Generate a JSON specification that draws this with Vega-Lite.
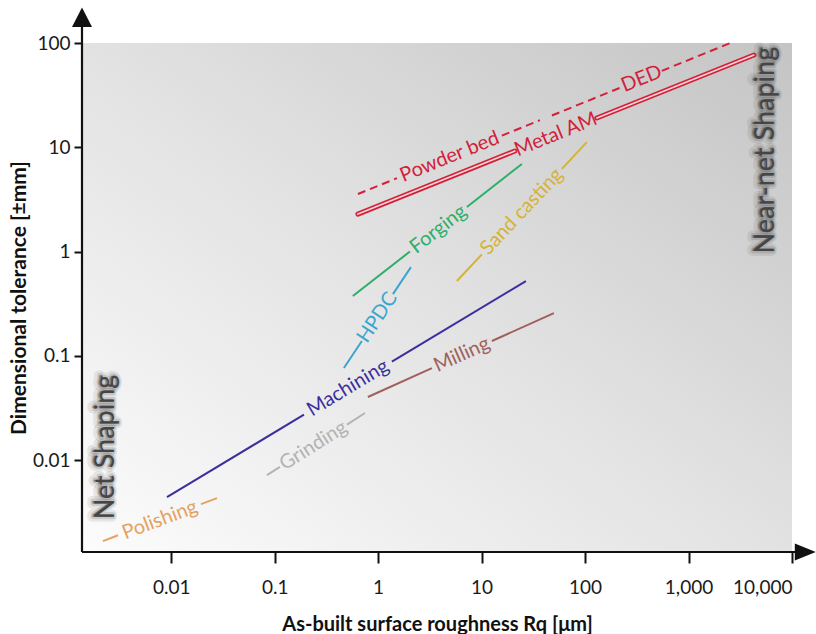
{
  "$schema": "https://vega.github.io/schema/vega-lite/v6.json",
  "width": 710,
  "height": 509,
  "autosize": {"type": "none"},
  "padding": {"left": 82, "top": 43, "right": 24, "bottom": 82},
  "background": "white",
  "config": {
    "view": {"stroke": null},
    "font": "Lato",
    "axis": {
      "domain": false,
      "grid": false,
      "tickColor": "#111111",
      "tickWidth": 2,
      "labelFont": "Lato",
      "labelFontSize": 19,
      "labelColor": "#1a1a1a",
      "titleFont": "Lato",
      "titleFontSize": 20,
      "titleFontWeight": "bold",
      "titleColor": "#111111"
    }
  },
  "datasets": {
    "frame": [
      {"part": "y axis", "x": 0.001374, "y": 0.00132},
      {"part": "y axis", "x": 0.001374, "y": 160},
      {"part": "x axis", "x": 0.001374, "y": 0.00132},
      {"part": "x axis", "x": 12000, "y": 0.00132}
    ],
    "arrows": [
      {"part": "y axis", "x": 0.001374, "y": 175.6},
      {"part": "x axis", "x": 13300, "y": 0.00132}
    ],
    "solid": [
      {"process": "Polishing", "seg": "Polishing a", "x": 0.00219, "y": 0.00168},
      {"process": "Polishing", "seg": "Polishing a", "x": 0.00306, "y": 0.00191},
      {"process": "Polishing", "seg": "Polishing b", "x": 0.0194, "y": 0.0038},
      {"process": "Polishing", "seg": "Polishing b", "x": 0.0277, "y": 0.00434},
      {"process": "Machining", "seg": "Machining a", "x": 0.0091, "y": 0.00444},
      {"process": "Machining", "seg": "Machining a", "x": 0.192, "y": 0.02735},
      {"process": "Machining", "seg": "Machining b", "x": 1.359, "y": 0.0883},
      {"process": "Machining", "seg": "Machining b", "x": 26.8, "y": 0.5224},
      {"process": "Grinding", "seg": "Grinding a", "x": 0.0843, "y": 0.00721},
      {"process": "Grinding", "seg": "Grinding a", "x": 0.1125, "y": 0.00865},
      {"process": "Grinding", "seg": "Grinding b", "x": 0.5, "y": 0.022},
      {"process": "Grinding", "seg": "Grinding b", "x": 0.746, "y": 0.0284},
      {"process": "HPDC", "seg": "HPDC a", "x": 0.467, "y": 0.0766},
      {"process": "HPDC", "seg": "HPDC a", "x": 0.697, "y": 0.1393},
      {"process": "HPDC", "seg": "HPDC b", "x": 1.39, "y": 0.391},
      {"process": "HPDC", "seg": "HPDC b", "x": 2.075, "y": 0.711},
      {"process": "Forging", "seg": "Forging a", "x": 0.57, "y": 0.375},
      {"process": "Forging", "seg": "Forging a", "x": 2.029, "y": 1.002},
      {"process": "Forging", "seg": "Forging b", "x": 7.21, "y": 2.68},
      {"process": "Forging", "seg": "Forging b", "x": 24.5, "y": 6.92},
      {"process": "Sand casting", "seg": "Sand casting a", "x": 5.77, "y": 0.5224},
      {"process": "Sand casting", "seg": "Sand casting a", "x": 10.07, "y": 0.942},
      {"process": "Sand casting", "seg": "Sand casting b", "x": 59.7, "y": 6.22},
      {"process": "Sand casting", "seg": "Sand casting b", "x": 104, "y": 11.2},
      {"process": "Milling", "seg": "Milling a", "x": 0.796, "y": 0.0404},
      {"process": "Milling", "seg": "Milling a", "x": 3.31, "y": 0.0764},
      {"process": "Milling", "seg": "Milling b", "x": 12.58, "y": 0.139},
      {"process": "Milling", "seg": "Milling b", "x": 50, "y": 0.2576}
    ],
    "metalAM": [
      {"seg": "Metal AM a", "x": 0.638, "y": 2.29},
      {"seg": "Metal AM a", "x": 21.0, "y": 9.22},
      {"seg": "Metal AM b", "x": 130, "y": 19.1},
      {"seg": "Metal AM b", "x": 4285, "y": 76.7}
    ],
    "powderDED": [
      {"seg": "a", "x": 0.638, "y": 3.565},
      {"seg": "a", "x": 1.519, "y": 5.06},
      {"seg": "b", "x": 15.7, "y": 12.94},
      {"seg": "b", "x": 36.6, "y": 18.2},
      {"seg": "c", "x": 47.8, "y": 20.2},
      {"seg": "c", "x": 227, "y": 37.8},
      {"seg": "d", "x": 552, "y": 54.1},
      {"seg": "d", "x": 2679, "y": 102.2}
    ],
    "labels": [
      {"label": "Polishing", "x": 0.00779, "y": 0.00267},
      {"label": "Machining", "x": 0.511, "y": 0.0492},
      {"label": "Grinding", "x": 0.237, "y": 0.0138},
      {"label": "HPDC", "x": 0.984, "y": 0.2335},
      {"label": "Forging", "x": 3.83, "y": 1.637},
      {"label": "Sand casting", "x": 24.5, "y": 2.42},
      {"label": "Milling", "x": 6.45, "y": 0.1028},
      {"label": "Metal AM", "x": 52.2, "y": 13.27},
      {"label": "Powder bed", "x": 4.91, "y": 8.09},
      {"label": "DED", "x": 352, "y": 45.3},
      {"label": "Net Shaping", "x": 0.00236, "y": 0.0134},
      {"label": "Near-net Shaping", "x": 5585, "y": 9.4}
    ]
  },
  "encoding": {
    "x": {
      "field": "x",
      "type": "quantitative",
      "scale": {"type": "log", "domain": [0.001374, 10000], "nice": false},
      "axis": {
        "title": "As-built surface roughness Rq [μm]",
        "values": [0.01, 0.1, 1, 10, 100, 1000, 10000],
        "format": ",",
        "tickSize": 11,
        "labelPadding": 15,
        "titlePadding": 17
      }
    },
    "y": {
      "field": "y",
      "type": "quantitative",
      "scale": {"type": "log", "domain": [0.00132, 100], "nice": false},
      "axis": {
        "title": "Dimensional tolerance [±mm]",
        "values": [0.01, 0.1, 1, 10, 100],
        "format": ",",
        "tickSize": 8,
        "labelPadding": 4,
        "titlePadding": 3,
        "titleFontSize": 21
      }
    }
  },
  "layer": [
    {
      "data": {"values": [{}]},
      "mark": {
        "type": "rect",
        "fill": {
          "gradient": "linear",
          "x1": 0, "y1": 1, "x2": 1, "y2": 0,
          "stops": [
            {"offset": 0, "color": "#fcfcfc"},
            {"offset": 0.5, "color": "#e2e2e2"},
            {"offset": 1, "color": "#c4c4c4"}
          ]
        }
      },
      "encoding": {
        "x": {"value": 0},
        "x2": {"value": "width"},
        "y": {"value": 0},
        "y2": {"value": "height"}
      }
    },
    {
      "data": {"name": "frame"},
      "mark": {"type": "line", "color": "#111111", "strokeWidth": 2.2},
      "encoding": {"detail": {"field": "part"}}
    },
    {
      "data": {"name": "arrows"},
      "mark": {"type": "point", "size": 400, "filled": true, "color": "#111111", "opacity": 1},
      "encoding": {
        "shape": {
          "field": "part",
          "type": "nominal",
          "legend": null,
          "scale": {
            "domain": ["y axis", "x axis"],
            "range": ["M0,-1L1,0.95L-1,0.95Z", "M1.1,0L-1,-0.85L-1,0.85Z"]
          }
        }
      }
    },
    {
      "data": {"name": "solid"},
      "mark": {"type": "line", "strokeWidth": 2},
      "encoding": {
        "detail": {"field": "seg"},
        "color": {
          "field": "process",
          "type": "nominal",
          "legend": null,
          "scale": {
            "domain": ["Polishing", "Machining", "Grinding", "HPDC", "Forging", "Sand casting", "Milling"],
            "range": ["#e3a262", "#3a2f9e", "#b3b3b3", "#3aa6cf", "#2daf6a", "#d6b332", "#a0605c"]
          }
        }
      }
    },
    {
      "data": {"name": "powderDED"},
      "mark": {"type": "line", "strokeWidth": 2, "color": "#d2213a", "strokeDash": [8, 5]},
      "encoding": {"detail": {"field": "seg"}}
    },
    {
      "data": {"name": "metalAM"},
      "mark": {"type": "line", "strokeWidth": 5, "color": "#d2213a", "strokeCap": "round"},
      "encoding": {"detail": {"field": "seg"}}
    },
    {
      "data": {"name": "metalAM"},
      "mark": {"type": "line", "strokeWidth": 1.6, "color": "#f6d6d6", "strokeCap": "round"},
      "encoding": {"detail": {"field": "seg"}}
    },
    {
      "data": {"name": "labels"},
      "transform": [{"filter": "datum.label === 'Polishing'"}],
      "mark": {"type": "text", "fontSize": 20, "angle": 339.3, "color": "#e3a262", "baseline": "middle"},
      "encoding": {"text": {"field": "label"}}
    },
    {
      "data": {"name": "labels"},
      "transform": [{"filter": "datum.label === 'Machining'"}],
      "mark": {"type": "text", "fontSize": 20, "angle": 329.0, "color": "#3a2f9e", "baseline": "middle"},
      "encoding": {"text": {"field": "label"}}
    },
    {
      "data": {"name": "labels"},
      "transform": [{"filter": "datum.label === 'Grinding'"}],
      "mark": {"type": "text", "fontSize": 20, "angle": 327.7, "color": "#b3b3b3", "baseline": "middle"},
      "encoding": {"text": {"field": "label"}}
    },
    {
      "data": {"name": "labels"},
      "transform": [{"filter": "datum.label === 'HPDC'"}],
      "mark": {"type": "text", "fontSize": 20, "angle": 303.6, "color": "#3aa6cf", "baseline": "middle"},
      "encoding": {"text": {"field": "label"}}
    },
    {
      "data": {"name": "labels"},
      "transform": [{"filter": "datum.label === 'Forging'"}],
      "mark": {"type": "text", "fontSize": 20, "angle": 322.0, "color": "#2daf6a", "baseline": "middle"},
      "encoding": {"text": {"field": "label"}}
    },
    {
      "data": {"name": "labels"},
      "transform": [{"filter": "datum.label === 'Sand casting'"}],
      "mark": {"type": "text", "fontSize": 20, "angle": 313.1, "color": "#d6b332", "baseline": "middle"},
      "encoding": {"text": {"field": "label"}}
    },
    {
      "data": {"name": "labels"},
      "transform": [{"filter": "datum.label === 'Milling'"}],
      "mark": {"type": "text", "fontSize": 20, "angle": 335.7, "color": "#a0605c", "baseline": "middle"},
      "encoding": {"text": {"field": "label"}}
    },
    {
      "data": {"name": "labels"},
      "transform": [{"filter": "datum.label === 'Metal AM' || datum.label === 'Powder bed' || datum.label === 'DED'"}],
      "mark": {"type": "text", "fontSize": 20, "angle": 338.0, "color": "#d2213a", "baseline": "middle"},
      "encoding": {"text": {"field": "label"}}
    },
    {
      "data": {"name": "labels"},
      "transform": [{"filter": "datum.label === 'Net Shaping' || datum.label === 'Near-net Shaping'"}],
      "mark": {"type": "text", "fontSize": 27, "angle": 270, "fill": "#222222", "fillOpacity": 0.3, "stroke": "#333333", "strokeWidth": 10, "strokeOpacity": 0.09, "strokeJoin": "round", "baseline": "middle", "dy": -2},
      "encoding": {"text": {"field": "label"}}
    },
    {
      "data": {"name": "labels"},
      "transform": [{"filter": "datum.label === 'Net Shaping' || datum.label === 'Near-net Shaping'"}],
      "mark": {"type": "text", "fontSize": 27, "angle": 270, "fill": "#222222", "fillOpacity": 0.25, "stroke": "#333333", "strokeWidth": 5, "strokeOpacity": 0.16, "strokeJoin": "round", "baseline": "middle", "dy": -1},
      "encoding": {"text": {"field": "label"}}
    },
    {
      "data": {"name": "labels"},
      "transform": [{"filter": "datum.label === 'Net Shaping' || datum.label === 'Near-net Shaping'"}],
      "mark": {"type": "text", "fontSize": 27, "angle": 270, "color": "#454545", "baseline": "middle"},
      "encoding": {"text": {"field": "label"}}
    }
  ]
}
